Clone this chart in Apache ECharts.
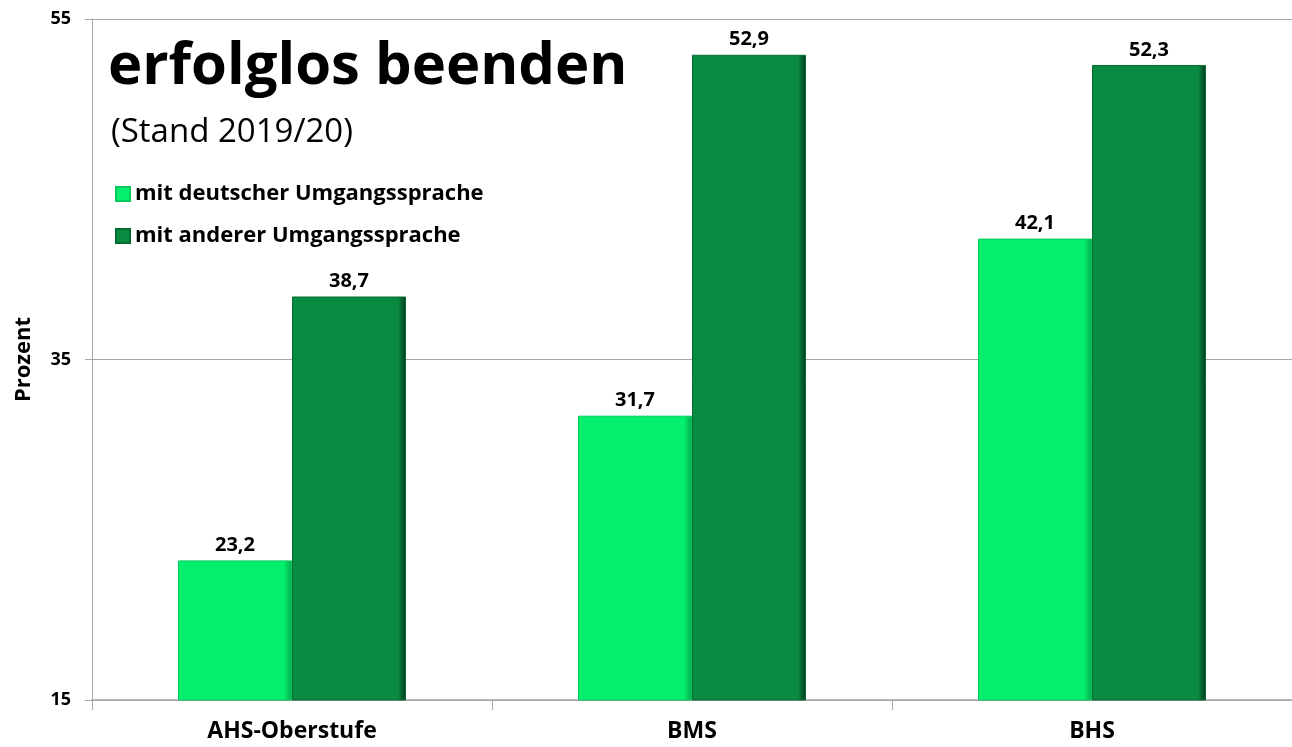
<!DOCTYPE html>
<html>
<head>
<meta charset="utf-8">
<script src="https://cdn.jsdelivr.net/npm/echarts@6/dist/echarts.min.js"></script>
<style>
  html, body { margin: 0; padding: 0; background: #ffffff; }
  #chart { width: 1292px; height: 747px; }
</style>
</head>
<body>
<div id="chart"></div>
<script>
// Schultypen
var categories = ['AHS-Oberstufe', 'BMS', 'BHS'];
// Anteil in Prozent
var deutsch = [23.2, 31.7, 42.1];
var andere = [38.7, 52.9, 52.3];
var yTicks = [15, 35, 55];

var font = '"Open Sans", "Noto Sans", sans-serif';

function barColor(c, edge) {
  return {
    type: 'linear', x: 0, y: 0, x2: 1, y2: 0,
    colorStops: [
      { offset: 0, color: c },
      { offset: 0.93, color: c },
      { offset: 1, color: edge }
    ]
  };
}

var chart = echarts.init(document.getElementById('chart'));
chart.setOption({
  animation: false,
  textStyle: { fontFamily: font },
  title: [
    {
      text: 'erfolglos beenden',
      left: 103, top: 33,
      textStyle: { fontSize: 58, fontWeight: 'bold', color: '#000', fontFamily: font }
    },
    {
      text: '(Stand 2019/20)',
      left: 106, top: 111,
      textStyle: { fontSize: 33, fontWeight: 'normal', color: '#000', fontFamily: font }
    }
  ],
  legend: {
    orient: 'vertical',
    left: 110, top: 178,
    itemWidth: 14, itemHeight: 14,
    itemGap: 20,
    icon: 'rect',
    textStyle: { fontSize: 22, fontWeight: 'bold', color: '#000', fontFamily: font },
    data: ['mit deutscher Umgangssprache', 'mit anderer Umgangssprache']
  },
  grid: { left: 92, right: 0, top: 19, bottom: 47 },
  xAxis: {
    type: 'category',
    data: categories,
    axisLine: { lineStyle: { color: '#a6a6a6', width: 1.5 } },
    axisTick: { show: true, length: 10, lineStyle: { color: '#a6a6a6' } },
    axisLabel: { fontSize: 23, fontWeight: 'bold', color: '#000', margin: 20, fontFamily: font }
  },
  yAxis: {
    type: 'value',
    min: 15, max: 55,
    name: 'Prozent',
    nameLocation: 'middle',
    nameGap: 57,
    nameTextStyle: { fontSize: 22, fontWeight: 'bold', color: '#000', fontFamily: font },
    axisLine: { show: true, lineStyle: { color: '#a6a6a6' } },
    axisTick: { show: true, length: 7, customValues: yTicks, lineStyle: { color: '#a6a6a6' } },
    axisLabel: { customValues: yTicks, fontSize: 18, fontWeight: 'bold', color: '#000', margin: 21, fontFamily: font },
    splitLine: { show: true, lineStyle: { color: '#a6a6a6', width: 1 } }
  },
  series: [
    {
      name: 'mit deutscher Umgangssprache',
      type: 'bar',
      data: deutsch,
      barGap: '0%',
      barCategoryGap: '43%',
      itemStyle: {
        color: barColor('#05ef6e', '#03a84c'),
        borderColor: '#04c95c', borderWidth: 1
      },
      label: {
        show: true, position: 'top', distance: 5,
        fontSize: 20, fontWeight: 'bold', color: '#000', fontFamily: font,
        formatter: function (p) { return String(p.value).replace('.', ','); }
      }
    },
    {
      name: 'mit anderer Umgangssprache',
      type: 'bar',
      data: andere,
      itemStyle: {
        color: barColor('#088b41', '#03381a'),
        borderColor: '#066b32', borderWidth: 1
      },
      label: {
        show: true, position: 'top', distance: 5,
        fontSize: 20, fontWeight: 'bold', color: '#000', fontFamily: font,
        formatter: function (p) { return String(p.value).replace('.', ','); }
      }
    }
  ]
});
</script>
</body>
</html>
